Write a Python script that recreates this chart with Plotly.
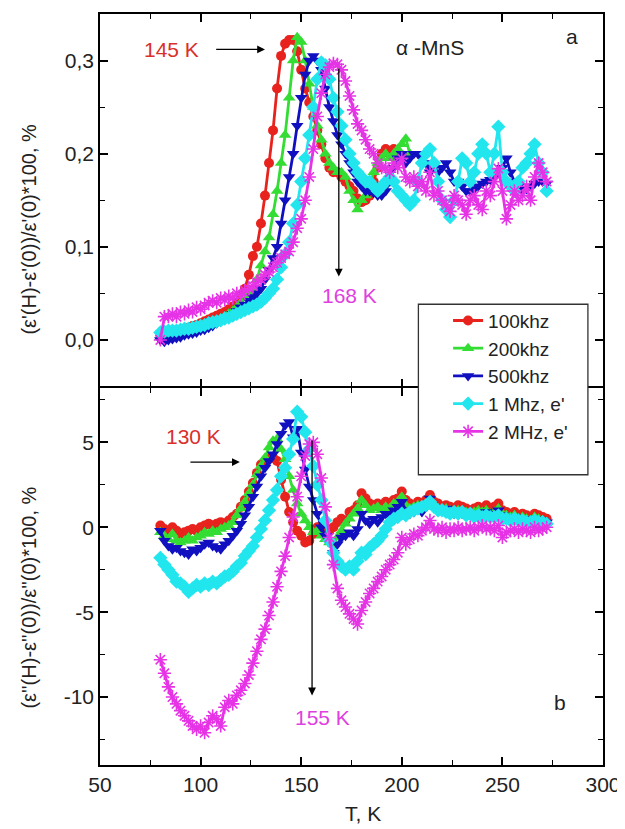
import plotly.graph_objects as go

# ---------------- data ----------------
T = [80, 82, 84, 86, 88, 90, 92, 94, 96, 98,
     100, 102, 104, 106, 108, 110, 112, 114, 116, 118,
     120, 122, 124, 126, 128, 130, 132, 134, 136, 138,
     140, 142, 144, 146, 148, 150, 152, 154, 156, 158,
     160, 162, 164, 166, 168, 170, 172, 174, 176, 178,
     180, 182, 184, 186, 188, 190, 192, 194, 196, 198,
     200, 202, 204, 206, 208, 210, 212, 214, 216, 218,
     220, 222, 224, 226, 228, 230, 232, 234, 236, 238,
     240, 242, 244, 246, 248, 250, 252, 254, 256, 258,
     260, 262, 264, 266, 268, 270, 272]

# panel a: (e'(H)-e'(0))/e'(0)*100, %
a_100k = [0.005, 0.006, 0.008, 0.009, 0.01, 0.011, 0.012, 0.013, 0.015, 0.016,
          0.018, 0.02, 0.022, 0.024, 0.026, 0.028, 0.03, 0.033, 0.036, 0.04,
          0.048, 0.055, 0.07, 0.09, 0.1, 0.125, 0.155, 0.19, 0.225, 0.27,
          0.305, 0.318, 0.322, 0.322, 0.31, 0.29, 0.27, 0.255, 0.24, 0.225,
          0.21, 0.195, 0.185, 0.18, 0.18, 0.175, 0.17, 0.165, 0.16, 0.152,
          0.148, 0.15, 0.155, 0.17, 0.185, 0.2, 0.205, 0.2, 0.205, 0.2,
          0.198]
a_200k = [0.003, 0.003, 0.004, 0.005, 0.006, 0.007, 0.008, 0.009, 0.01, 0.012,
          0.013, 0.015, 0.017, 0.019, 0.021, 0.023, 0.025, 0.028, 0.031, 0.035,
          0.04, 0.045, 0.05, 0.055, 0.065, 0.08, 0.095, 0.11, 0.135, 0.16,
          0.19, 0.22, 0.26, 0.3, 0.325, 0.32, 0.3, 0.275, 0.25, 0.23,
          0.215, 0.2, 0.19, 0.185, 0.18, 0.18, 0.175, 0.16, 0.15, 0.14,
          0.15, 0.155, 0.165, 0.18, 0.19, 0.195, 0.2, 0.195, 0.2, 0.205,
          0.21, 0.216, 0.2]
a_500k = [0.0, -0.002, 0.0, 0.001, 0.002, 0.003, 0.005, 0.006, 0.007, 0.008,
          0.01, 0.011, 0.013, 0.015, 0.018, 0.02, 0.022, 0.025, 0.028, 0.031,
          0.035, 0.038, 0.042, 0.046, 0.05, 0.055, 0.065, 0.075, 0.088, 0.1,
          0.125, 0.15, 0.175, 0.2, 0.23, 0.26, 0.285, 0.3, 0.305, 0.3,
          0.29, 0.27, 0.25, 0.235, 0.22, 0.21, 0.2, 0.19, 0.18, 0.17,
          0.165, 0.16, 0.16, 0.158, 0.155, 0.155, 0.16, 0.17, 0.185, 0.195,
          0.2, 0.19, 0.195, 0.2, 0.2, 0.195, 0.19, 0.18, 0.185, 0.18,
          0.185, 0.19, 0.18, 0.17, 0.17, 0.165, 0.16, 0.16, 0.162, 0.165,
          0.168, 0.17, 0.172, 0.175, 0.18, 0.185, 0.195, 0.18, 0.17, 0.165,
          0.16, 0.162, 0.165, 0.168, 0.17, 0.17, 0.168]
a_1M = [0.008, 0.009, 0.01, 0.01, 0.01, 0.011, 0.012, 0.012, 0.013, 0.014,
        0.015, 0.016, 0.018, 0.019, 0.02, 0.021, 0.023, 0.024, 0.026, 0.028,
        0.03, 0.032, 0.034, 0.036, 0.038, 0.041, 0.045, 0.05, 0.055, 0.065,
        0.078, 0.092, 0.105, 0.125, 0.145, 0.17, 0.195, 0.22, 0.25, 0.28,
        0.298, 0.295, 0.28, 0.26, 0.245, 0.23, 0.215, 0.2, 0.19, 0.18,
        0.175, 0.17, 0.17, 0.165, 0.16, 0.165, 0.17, 0.175, 0.17, 0.16,
        0.155, 0.15, 0.145, 0.15, 0.17, 0.19, 0.2, 0.205, 0.19, 0.17,
        0.15, 0.14, 0.132, 0.15, 0.17, 0.195, 0.19, 0.17, 0.18, 0.2,
        0.21, 0.2, 0.18, 0.2, 0.229, 0.18, 0.17, 0.165, 0.16, 0.17,
        0.185, 0.19, 0.2, 0.21, 0.19, 0.18, 0.16]
a_2M = [0.0, 0.025, 0.025, 0.028, 0.025, 0.03, 0.028, 0.032, 0.03, 0.035,
        0.033, 0.037, 0.04, 0.042, 0.04, 0.045, 0.043, 0.047, 0.045, 0.05,
        0.048, 0.053, 0.055, 0.058, 0.062, 0.065, 0.07, 0.073, 0.078, 0.083,
        0.088, 0.092, 0.095, 0.105, 0.12, 0.13, 0.15, 0.175, 0.205, 0.24,
        0.265, 0.285, 0.293, 0.297, 0.296, 0.29, 0.278, 0.262, 0.247, 0.232,
        0.225, 0.215, 0.205, 0.2, 0.19, 0.185, 0.185, 0.18, 0.19, 0.185,
        0.195, 0.175, 0.17, 0.175, 0.165, 0.17, 0.16, 0.18, 0.155, 0.16,
        0.15, 0.145, 0.138, 0.155, 0.15, 0.145, 0.135, 0.15, 0.155, 0.145,
        0.14, 0.16, 0.155, 0.17, 0.184, 0.16, 0.13, 0.145, 0.16, 0.15,
        0.155, 0.165, 0.15, 0.175, 0.19, 0.18, 0.17]

# panel b: (e''(H)-e''(0))/e''(0)*100, %
b_100k = [0.1, -0.1, -0.3, 0.0, -0.2, -0.4, -0.3, -0.2, -0.1, -0.2,
          0.0, 0.1, 0.2, 0.1, 0.2, 0.3, 0.2, 0.4, 0.6, 0.8,
          1.2, 1.6, 2.1, 2.6, 3.2, 3.7, 3.9, 4.1, 4.1, 3.9,
          2.8, 1.8, 0.9, 0.3, -0.2, -0.5, -0.9, -0.8, -0.4, 0.0,
          0.1, 0.0, -0.2, 0.0, 0.3, 0.5, 0.4, 0.9, 1.0, 1.3,
          2.0, 1.7, 1.4, 1.3, 1.4, 1.2, 1.5, 1.4, 1.6, 1.7,
          2.1, 1.6, 1.4, 1.3, 1.5, 1.4, 1.6, 1.9, 1.5, 1.4,
          1.2, 1.3, 1.2, 1.1, 1.3, 1.2, 1.1, 1.0, 1.1, 1.2,
          1.1, 1.3, 1.0, 1.2, 1.4, 1.0, 0.9, 0.8, 0.9, 0.7,
          0.8, 0.7, 0.6, 0.8, 0.7, 0.6, 0.5]
b_200k = [-0.3, -0.5, -0.7, -0.4, -0.8, -0.9, -0.8, -0.6, -0.8, -0.6,
          -0.5, -0.3, -0.4, -0.2, -0.3, -0.1, 0.0, 0.1, 0.3, 0.7,
          1.1, 1.5, 2.0, 2.5, 3.1, 3.6, 4.1, 4.7, 5.1, 5.2,
          4.6, 4.0, 3.0, 2.2, 1.4, 0.8, 0.4, 0.0, -0.3, -0.2,
          -0.5, -0.7, -0.9, -1.0, -0.6, -0.2, 0.2, 0.5, 0.8, 1.1,
          1.6, 1.3, 1.0, 1.1, 1.2, 1.0, 1.2, 1.1, 1.4, 1.5,
          1.8, 1.3, 1.1, 1.2, 1.3, 1.1, 1.3, 1.6, 1.2, 1.1,
          1.0, 1.1, 1.0, 0.9, 1.0, 0.9, 0.9, 0.8, 0.9, 1.0,
          0.9, 1.0, 0.8, 0.9, 1.1, 0.8, 0.7, 0.6, 0.7, 0.5,
          0.6, 0.5, 0.4, 0.6, 0.5, 0.4, 0.3]
b_500k = [-0.2, -0.8, -1.1, -1.3, -1.2, -1.4, -1.5, -1.6, -1.3, -1.4,
          -1.2, -1.0, -0.9, -1.1, -1.2, -1.3, -1.0, -0.8, -0.5, -0.2,
          0.2, 0.7, 1.2, 1.8, 2.4, 3.0, 3.5, 3.9, 4.3, 4.9,
          5.5, 6.0, 6.2, 5.3, 5.8, 4.4, 3.4, 2.4, 1.6, 0.8,
          0.0, -0.5, -0.9, -1.5, -1.0, -0.6, -0.5, -0.3, -0.5, -0.1,
          0.8, 0.4, 0.2, 0.5, 0.3, 0.6, 0.8, 0.7, 1.0, 1.2,
          1.5, 1.0, 0.8, 0.9, 1.1, 0.9, 1.2, 1.7, 1.2, 1.0,
          1.0, 1.1, 0.9, 0.8, 0.9, 0.8, 0.8, 0.7, 0.8, 0.8,
          0.8, 0.9, 0.7, 0.8, 1.0, 0.7, 0.6, 0.5, 0.6, 0.4,
          0.5, 0.4, 0.4, 0.5, 0.4, 0.4, 0.3]
b_1M = [-1.8, -2.2, -2.5, -2.8, -3.2, -3.3, -3.5, -3.8, -3.6, -3.4,
        -3.5, -3.3, -3.4, -3.2, -3.3, -3.1, -2.9, -2.8, -2.6, -2.3,
        -2.1, -1.7, -1.4, -1.1, -0.6, -0.1, 0.4, 1.0, 1.6, 2.2,
        3.0, 3.5, 4.3, 5.2, 6.8, 6.5, 5.6, 4.6, 3.6, 2.5,
        1.6, 0.4, -0.8, -1.5, -2.0, -2.3, -2.5, -2.3, -2.5, -2.0,
        -1.5, -1.6, -1.2, -1.0, -0.8, -0.5, -0.1, 0.3, 0.5, 0.6,
        0.8, 0.7, 0.9, 1.0, 1.1, 1.2, 1.3, 1.5, 1.2, 1.0,
        1.0, 0.9, 0.8, 0.9, 0.8, 0.9, 0.7, 0.8, 0.6, 0.7,
        0.6, 0.7, 0.6, 0.6, 0.7, 0.5, 0.5, 0.4, 0.5, 0.4,
        0.4, 0.3, 0.3, 0.4, 0.3, 0.3, 0.2]
b_2M = [-7.8, -8.6, -9.4, -10.0, -10.4, -10.8, -11.1, -11.4, -11.7, -11.9,
        -11.7, -12.1, -11.5, -11.1, -11.3, -11.7, -10.6, -10.2, -10.4, -9.9,
        -9.6, -9.2, -8.7, -8.0, -7.3, -6.6, -6.0, -5.2, -4.4, -3.5,
        -2.6, -1.7, -0.6, 0.6, 1.8, 3.0, 4.2, 4.9, 5.0, 4.3,
        2.9, 1.2, -0.6, -2.2, -3.6, -4.3, -4.7, -5.1, -5.4, -5.7,
        -4.9, -4.4, -3.9, -3.6, -3.2, -2.9, -2.5, -2.2, -1.9, -1.5,
        -0.6, -1.0, -0.7, -0.4, -0.5, -0.2, 0.0, 0.4, -0.1, -0.2,
        0.0, -0.3, -0.1, -0.2, 0.0, -0.2, -0.1, 0.0, -0.2, 0.0,
        0.1, -0.1, 0.0, -0.2, 0.1, -0.6, -0.3, -0.2, -0.1, -0.3,
        -0.1, -0.2, -0.3, 0.0, -0.2, -0.1, 0.0]

names = ["100khz", "200khz", "500khz", "1 Mhz, e'", "2 MHz, e'"]
colors = ["#e8231e", "#33dd33", "#1010c0", "#22e6ee", "#e633e6"]
symbols = ["circle", "triangle-up", "triangle-down", "diamond", "asterisk-open"]
sizes = [10, 11, 11, 11, 11]
series_a = [a_100k, a_200k, a_500k, a_1M, a_2M]
series_b = [b_100k, b_200k, b_500k, b_1M, b_2M]

x_ticks = [50, 100, 150, 200, 250, 300]
ya_ticks = [0.0, 0.1, 0.2, 0.3]
yb_ticks = [-10, -5, 0, 5]
yb_ticktext = ["-10", "-5", "0", "5"]

FONT = "Liberation Sans, Arial, sans-serif"

fig = go.Figure()
for i in range(5):
    mk = dict(symbol=symbols[i], size=sizes[i], color=colors[i],
              line=dict(color=colors[i], width=1.6 if symbols[i] == "asterisk-open" else 0))
    fig.add_trace(go.Scatter(x=T[:len(series_a[i])], y=series_a[i], name=names[i],
                             mode="lines+markers", line=dict(color=colors[i], width=2.8),
                             marker=mk, xaxis="x", yaxis="y", showlegend=True))
for i in range(5):
    mk = dict(symbol=symbols[i], size=sizes[i], color=colors[i],
              line=dict(color=colors[i], width=1.6 if symbols[i] == "asterisk-open" else 0))
    fig.add_trace(go.Scatter(x=T[:len(series_b[i])], y=series_b[i], name=names[i],
                             mode="lines+markers", line=dict(color=colors[i], width=2.8),
                             marker=mk, xaxis="x2", yaxis="y2", showlegend=False))

axis_common = dict(showline=True, linecolor="black", linewidth=1.5, mirror="allticks",
                   ticks="inside", ticklen=8, tickwidth=1.5, tickcolor="black",
                   showgrid=False, zeroline=False, ticklabeloverflow="allow",
                   tickfont=dict(family=FONT, size=21, color="#222"))

split = 0.502
fig.update_layout(
    width=617, height=821,
    margin=dict(l=92, r=21, t=4, b=64),
    paper_bgcolor="white", plot_bgcolor="white",
    separators=",.",
    font=dict(family=FONT, size=20, color="#222"),
    xaxis=dict(domain=[0, 1], anchor="y", range=[50, 300], tickvals=x_ticks,
               showticklabels=False,
               minor=dict(ticks="inside", ticklen=5, tickwidth=1.3, dtick=25, tick0=50, tickcolor="black"),
               **axis_common),
    yaxis=dict(domain=[split + 0.002, 1], anchor="x", range=[-0.05, 0.35], tickvals=ya_ticks,
               tickformat=".1f",
               minor=dict(ticks="inside", ticklen=5, tickwidth=1.3, dtick=0.05, tick0=0, tickcolor="black"),
               **axis_common),
    xaxis2=dict(domain=[0, 1], anchor="y2", range=[50, 300], tickvals=x_ticks,
                minor=dict(ticks="inside", ticklen=5, tickwidth=1.3, dtick=25, tick0=50, tickcolor="black"),
                **axis_common),
    yaxis2=dict(domain=[0, split], anchor="x2", range=[-14, 8.2], tickvals=yb_ticks,
                ticktext=yb_ticktext,
                minor=dict(ticks="inside", ticklen=5, tickwidth=1.3, dtick=2.5, tick0=0, tickcolor="black"),
                **axis_common),
    legend=dict(x=0.692, y=0.617, xanchor="left", yanchor="top",
                bgcolor="rgba(0,0,0,0)", borderwidth=0,
                font=dict(family=FONT, size=19, color="#222"),
                tracegroupgap=0),
    showlegend=True,
)

# legend frame (extends below the entries as in the original)
fig.add_shape(type="rect", xref="paper", yref="paper", x0=0.633, x1=0.970, y0=0.3865, y1=0.6135,
              fillcolor="white", line=dict(color="#333", width=1.3), layer="above")

ann = []
def txt(x, y, s, color, xref, yref, size=21, xanchor="center"):
    ann.append(dict(x=x, y=y, xref=xref, yref=yref, text=s, showarrow=False,
                    font=dict(family=FONT, size=size, color=color), xanchor=xanchor, yanchor="middle"))

def arrow(x0, y0, x1, y1, xref, yref):
    ann.append(dict(x=x1, y=y1, ax=x0, ay=y0, xref=xref, yref=yref, axref=xref, ayref=yref,
                    text="", showarrow=True, arrowhead=2, arrowsize=1.2, arrowwidth=1.3,
                    arrowcolor="black"))

RED_T = "#d9302a"
MAG_T = "#e040e0"
txt(85.5, 0.312, "145 K", RED_T, "x", "y")
arrow(107, 0.312, 132, 0.312, "x", "y")
txt(214, 0.314, "α -MnS", "#222", "x", "y")
txt(284.5, 0.326, "a", "#222", "x", "y")
txt(174, 0.048, "168 K", MAG_T, "x", "y")
arrow(168.7, 0.293, 168.7, 0.068, "x", "y")

txt(96.6, 5.36, "130 K", RED_T, "x2", "y2")
arrow(94.2, 3.84, 119.5, 3.84, "x2", "y2")
arrow(155.4, 5.2, 155.4, -9.9, "x2", "y2")
txt(160.7, -11.2, "155 K", MAG_T, "x2", "y2")
txt(278.7, -10.3, "b", "#222", "x2", "y2")

# axis titles
ann.append(dict(x=-0.143, y=0.713, xref="paper", yref="paper", text="(ε'(H)-ε'(0))/ε'(0)*100, %",
                textangle=-90, showarrow=False, font=dict(family=FONT, size=20, color="#222"),
                xanchor="center", yanchor="middle"))
ann.append(dict(x=-0.143, y=0.223, xref="paper", yref="paper", text="(ε''(H)-ε''(0))/ε''(0)*100, %",
                textangle=-90, showarrow=False, font=dict(family=FONT, size=20, color="#222"),
                xanchor="center", yanchor="middle"))
ann.append(dict(x=0.522, y=-0.064, xref="paper", yref="paper", text="T, K",
                showarrow=False, font=dict(family=FONT, size=21, color="#222"),
                xanchor="center", yanchor="middle"))
fig.update_layout(annotations=ann)

fig.write_html("out.html")
